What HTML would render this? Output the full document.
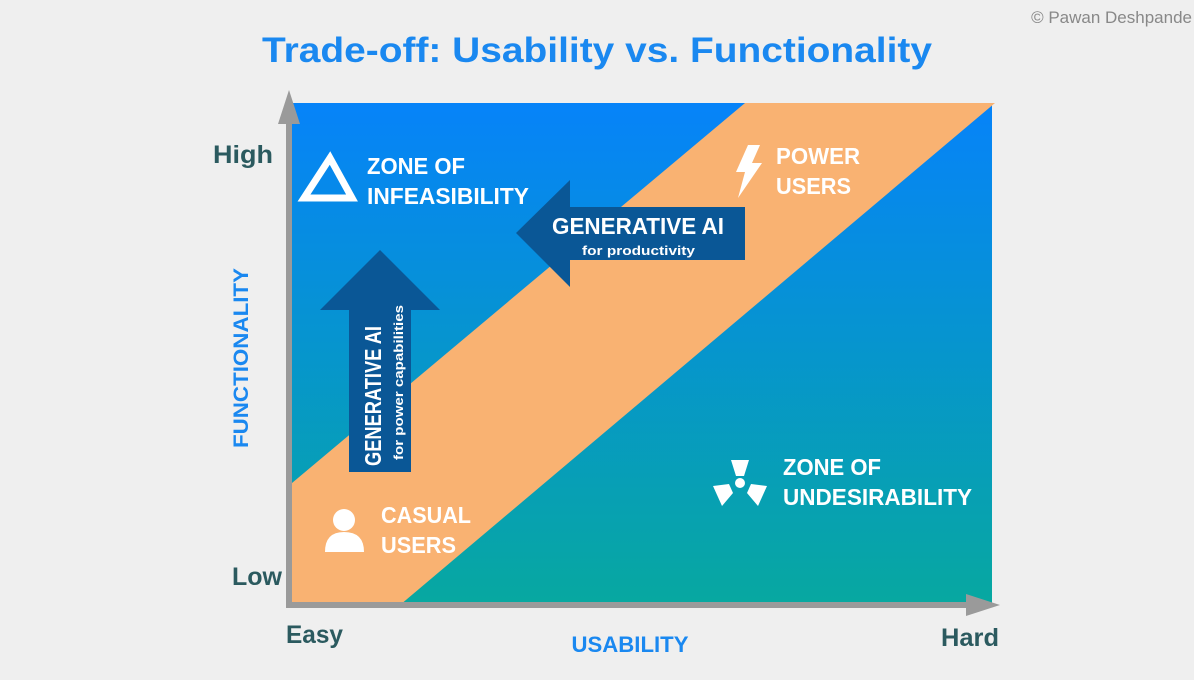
<!DOCTYPE html>
<html><head><meta charset="utf-8"><style>
body{margin:0;width:1194px;height:675px;background:#efefef;overflow:hidden;font-family:"Liberation Sans",sans-serif}
</style></head><body>
<svg width="1194" height="675" viewBox="0 0 1194 675" xmlns="http://www.w3.org/2000/svg">
<defs><linearGradient id="g" x1="0" y1="0" x2="0" y2="1">
<stop offset="0" stop-color="#0683f9"/><stop offset="1" stop-color="#07a8a0"/></linearGradient></defs>
<text x="1192" y="23" text-anchor="end" font-size="17" fill="#888">© Pawan Deshpande</text>
<text x="597" y="62" text-anchor="middle" font-size="35" font-weight="bold" fill="#1a88f0" textLength="670" lengthAdjust="spacingAndGlyphs">Trade-off: Usability vs. Functionality</text>
<rect x="292" y="103" width="700" height="502" fill="url(#g)"/>
<polygon points="292,483 745,103 995,103 400,605 292,605" fill="#f9b272"/>
<!-- axes -->
<rect x="286" y="112" width="6" height="496" fill="#9a9a9a"/>
<polygon points="278,124 300,124 289,90" fill="#9a9a9a"/>
<rect x="286" y="602" width="690" height="6" fill="#9a9a9a"/>
<polygon points="966,594 966,616 1000,605" fill="#9a9a9a"/>
<g font-weight="bold" fill="#2b5a5f" font-size="25">
<text x="213" y="163" textLength="60" lengthAdjust="spacingAndGlyphs">High</text>
<text x="232" y="585" textLength="50" lengthAdjust="spacingAndGlyphs">Low</text>
<text x="286" y="643" textLength="57" lengthAdjust="spacingAndGlyphs">Easy</text>
<text x="941" y="646" textLength="58" lengthAdjust="spacingAndGlyphs">Hard</text>
</g>
<text x="630" y="652" text-anchor="middle" font-size="22" font-weight="bold" fill="#1a88f0" textLength="117" lengthAdjust="spacingAndGlyphs">USABILITY</text>
<text transform="translate(248,358) rotate(-90)" text-anchor="middle" font-size="21" font-weight="bold" fill="#1a88f0" textLength="180" lengthAdjust="spacingAndGlyphs">FUNCTIONALITY</text>
<!-- zone labels -->
<g font-weight="bold" fill="#fff" font-size="23">
<text x="367" y="174" textLength="98" lengthAdjust="spacingAndGlyphs">ZONE OF</text>
<text x="367" y="204" textLength="162" lengthAdjust="spacingAndGlyphs">INFEASIBILITY</text>
<text x="776" y="164" textLength="84" lengthAdjust="spacingAndGlyphs">POWER</text>
<text x="776" y="194" textLength="75" lengthAdjust="spacingAndGlyphs">USERS</text>
<text x="783" y="475" textLength="98" lengthAdjust="spacingAndGlyphs">ZONE OF</text>
<text x="783" y="505" textLength="189" lengthAdjust="spacingAndGlyphs">UNDESIRABILITY</text>
<text x="381" y="523" textLength="90" lengthAdjust="spacingAndGlyphs">CASUAL</text>
<text x="381" y="553" textLength="75" lengthAdjust="spacingAndGlyphs">USERS</text>
</g>
<!-- icons -->
<g fill="#fff">
<polygon points="330,158 352,198 304,198" fill="none" stroke="#fff" stroke-width="7"/>
<polygon points="748,145 760,145 752,163 762,163 738,198 745,172 736,172"/>
<circle cx="344" cy="520" r="11"/>
<path d="M325,552 Q325,532 344,532 Q364,532 364,552 Z"/>
<circle cx="740" cy="483" r="5"/>
<path d="M731,460 L749,460 L744,476 L736,476 Z"/>
<path d="M713,486 L729,484 L733,493 L722,506 Z"/>
<path d="M767,486 L751,484 L747,493 L758,506 Z"/>
</g>
<!-- up arrow -->
<g fill="#0a5796">
<polygon points="320,310 380,250 440,310 411,310 411,472 349,472 349,310"/>
<polygon points="516,233 570,180 570,207 745,207 745,260 570,260 570,287"/>
</g>
<g fill="#fff" font-weight="bold">
<text transform="translate(381,466) rotate(-90)" font-size="23" textLength="140" lengthAdjust="spacingAndGlyphs">GENERATIVE AI</text>
<text transform="translate(403,460) rotate(-90)" font-size="13" textLength="155" lengthAdjust="spacingAndGlyphs">for power capabilities</text>
<text x="552" y="234" font-size="23" textLength="172" lengthAdjust="spacingAndGlyphs">GENERATIVE AI</text>
<text x="582" y="255" font-size="13" textLength="113" lengthAdjust="spacingAndGlyphs">for productivity</text>
</g>
</svg>
</body></html>
